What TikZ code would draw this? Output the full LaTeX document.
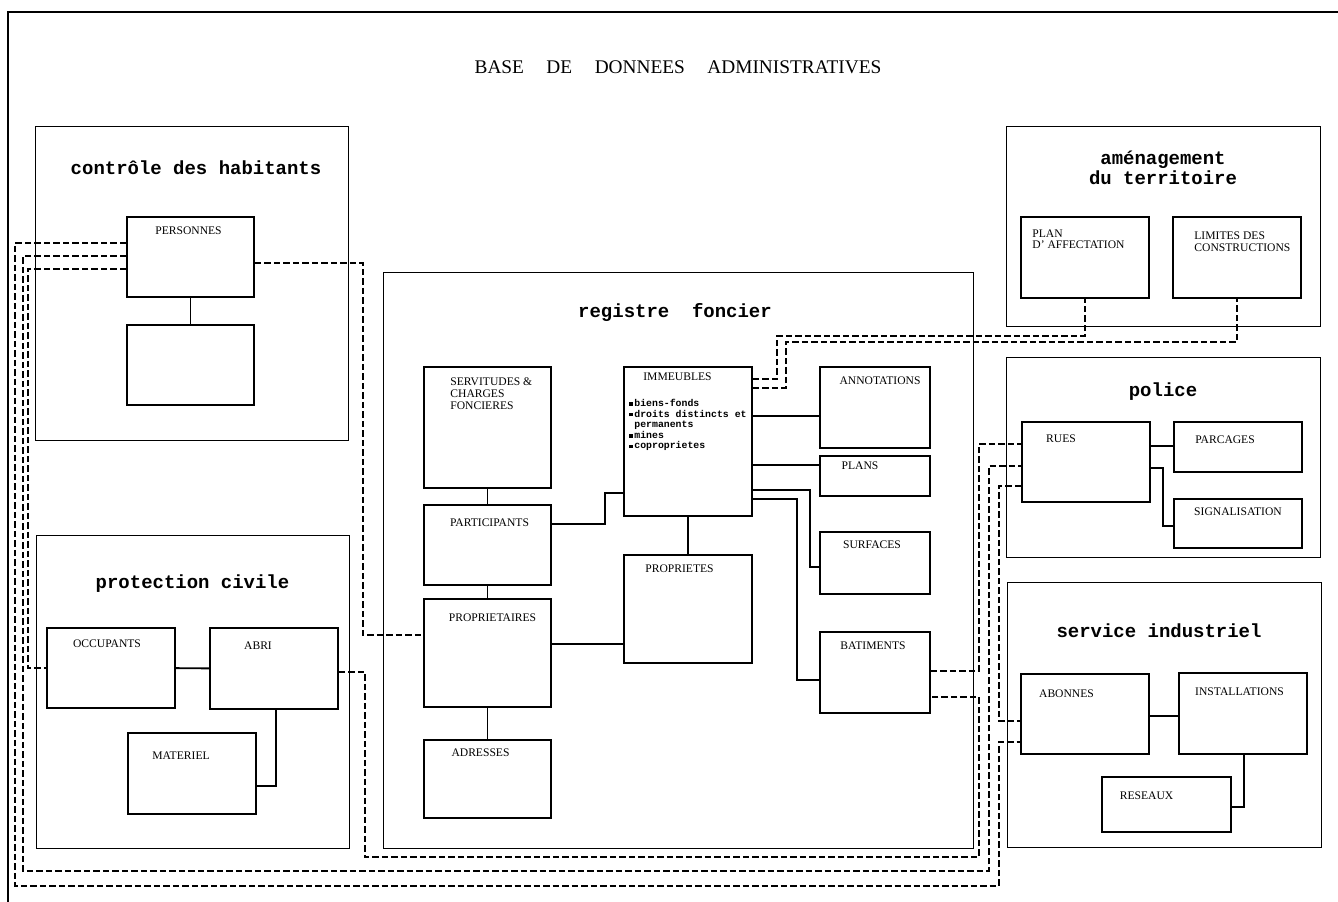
\documentclass[tikz,border=0pt]{standalone}
\usepackage{fontspec}
\setmainfont{Liberation Serif}
\newfontfamily\grpfont{Liberation Mono}

\newcommand{\blt}{\raisebox{0.15ex}{\rule{0.07cm}{0.07cm}}\hspace{0.03cm}}

\begin{document}
\begin{tikzpicture}[x=0.02cm, y=-0.02cm,
  grp/.style={draw, line width=0.5pt, inner sep=0pt},
  ent/.style 2 args={draw, line width=1.1pt, minimum width=#1, minimum height=#2, inner sep=0pt},
  lbl/.style={font=\fontsize{6.6}{6.8}\selectfont, inner sep=0pt, align=left},
  gtitle/.style={font=\grpfont\bfseries\fontsize{10.8}{9.8}\selectfont, inner sep=0pt, align=center},
  lst/.style={font=\grpfont\bfseries\fontsize{5.6}{6}\selectfont, inner sep=0pt, align=left},
  link/.style={line width=1.1pt},
  dlink/.style={line width=0.9pt, dash pattern=on 0.13cm off 0.06cm}
]
\useasboundingbox (0,0) rectangle (1338,902);

% frame and title
\draw[line width=0.6pt] (8,902) -- (8,12) -- (1338,12);
\node[font=\fontsize{11}{12}\selectfont] (title) at (678,67)
  {BASE\hspace{0.45cm}DE\hspace{0.45cm}DONNEES\hspace{0.45cm}ADMINISTRATIVES};

% groups
\node[grp, minimum width=6.26cm, minimum height=6.28cm,
  label={[gtitle, anchor=center, xshift=0.09cm, yshift=-0.84cm]north:{contrôle des habitants}}] (ctrl) at (191.5,283) {};
\node[grp, minimum width=6.26cm, minimum height=6.26cm,
  label={[gtitle, anchor=center, yshift=-0.98cm]north:{protection civile}}] (prot) at (192.5,691.5) {};
\node[grp, minimum width=11.8cm, minimum height=11.52cm,
  label={[gtitle, anchor=center, xshift=-0.06cm, yshift=-0.82cm]north:{registre~~foncier}}] (reg) at (678,560) {};
\node[grp, minimum width=6.28cm, minimum height=4cm,
  label={[gtitle, anchor=center, yshift=-0.85cm]north:{aménagement\\du territoire}}] (amen) at (1163,226) {};
\node[grp, minimum width=6.28cm, minimum height=4cm,
  label={[gtitle, anchor=center, yshift=-0.7cm]north:{police}}] (pol) at (1163,457) {};
\node[grp, minimum width=6.28cm, minimum height=5.3cm,
  label={[gtitle, anchor=center, xshift=-0.1cm, yshift=-0.98cm]north:{service industriel}}] (svc) at (1164,714.5) {};

% controle des habitants / protection civile
\node[ent={2.54cm}{1.6cm}, label={[lbl, anchor=north, xshift=-0.04cm, yshift=-0.2cm]north:{PERSONNES}}] (pers) at (190.5,257) {};
\node[ent={2.54cm}{1.6cm}] (blank) at (190.5,365) {};
\node[ent={2.56cm}{1.6cm}, label={[lbl, anchor=north, xshift=-0.08cm, yshift=-0.24cm]north:{OCCUPANTS}}] (occ) at (111,668) {};
\node[ent={2.56cm}{1.62cm}, label={[lbl, anchor=north, xshift=-0.32cm, yshift=-0.28cm]north:{ABRI}}] (abri) at (274,668.5) {};
\node[ent={2.56cm}{1.62cm}, label={[lbl, anchor=north, xshift=-0.22cm, yshift=-0.38cm]north:{MATERIEL}}] (mat) at (192,773.5) {};

% registre foncier
\node[ent={2.54cm}{2.42cm}, label={[lbl, anchor=north west, xshift=0.54cm, yshift=-0.22cm]north west:{SERVITUDES \&\\CHARGES\\FONCIERES}}] (serv) at (487.5,427.5) {};
\node[ent={2.54cm}{1.6cm}, label={[lbl, anchor=north, xshift=0.04cm, yshift=-0.28cm]north:{PARTICIPANTS}}] (part) at (487.5,545) {};
\node[ent={2.54cm}{2.16cm}, label={[lbl, anchor=north, xshift=0.1cm, yshift=-0.3cm]north:{PROPRIETAIRES}}] (propr) at (487.5,653) {};
\node[ent={2.54cm}{1.56cm}, label={[lbl, anchor=north, xshift=-0.14cm, yshift=-0.18cm]north:{ADRESSES}}] (adr) at (487.5,779) {};
\node[ent={2.56cm}{2.98cm}, label={[lbl, anchor=north, xshift=-0.21cm, yshift=-0.12cm]north:{IMMEUBLES}},
  label={[lst, anchor=north west, xshift=0.12cm, yshift=-0.66cm]north west:{\blt biens-fonds\\\blt droits distincts et\\\hspace*{0.1cm}permanents\\\blt mines\\\blt coproprietes}}] (imm) at (688,441.5) {};
\node[ent={2.56cm}{2.16cm}, label={[lbl, anchor=north, xshift=-0.17cm, yshift=-0.2cm]north:{PROPRIETES}}] (props) at (688,609) {};
\node[ent={2.2cm}{1.62cm}, label={[lbl, anchor=north, xshift=0.1cm, yshift=-0.2cm]north:{ANNOTATIONS}}] (annot) at (875,407.5) {};
\node[ent={2.2cm}{0.8cm}, label={[lbl, anchor=north, xshift=-0.3cm, yshift=-0.12cm]north:{PLANS}}] (plans) at (875,476) {};
\node[ent={2.2cm}{1.24cm}, label={[lbl, anchor=north, xshift=-0.06cm, yshift=-0.18cm]north:{SURFACES}}] (surf) at (875,563) {};
\node[ent={2.2cm}{1.62cm}, label={[lbl, anchor=north, xshift=-0.04cm, yshift=-0.2cm]north:{BATIMENTS}}] (bat) at (875,672.5) {};

% amenagement, police, service industriel
\node[ent={2.56cm}{1.62cm}, label={[lbl, anchor=north west, xshift=0.24cm, yshift=-0.26cm]north west:{PLAN\\D'~AFFECTATION}}] (plan) at (1085,257.5) {};
\node[ent={2.56cm}{1.62cm}, label={[lbl, anchor=north west, xshift=0.44cm, yshift=-0.3cm]north west:{LIMITES DES\\CONSTRUCTIONS}}] (lim) at (1237,257.5) {};
\node[ent={2.56cm}{1.6cm}, label={[lbl, anchor=north, xshift=-0.5cm, yshift=-0.26cm]north:{RUES}}] (rues) at (1086,462) {};
\node[ent={2.56cm}{1cm}, label={[lbl, anchor=north, xshift=-0.26cm, yshift=-0.28cm]north:{PARCAGES}}] (parc) at (1238,447) {};
\node[ent={2.56cm}{0.98cm}, label={[lbl, anchor=north, yshift=-0.18cm]north:{SIGNALISATION}}] (sign) at (1238,523.5) {};
\node[ent={2.56cm}{1.6cm}, label={[lbl, anchor=north, xshift=-0.37cm, yshift=-0.32cm]north:{ABONNES}}] (abon) at (1085,714) {};
\node[ent={2.56cm}{1.62cm}, label={[lbl, anchor=north, xshift=-0.07cm, yshift=-0.3cm]north:{INSTALLATIONS}}] (inst) at (1243,713.5) {};
\node[ent={2.58cm}{1.1cm}, label={[lbl, anchor=north, xshift=-0.4cm, yshift=-0.3cm]north:{RESEAUX}}] (res) at (1166.5,804.5) {};

% solid links
\draw[link] (pers) -- (blank);
\draw[link] (occ) -- (abri);
\draw[link] (abri.south -| 276,0) |- (mat.east |- 0,786);
\draw[link] (serv) -- (part);
\draw[link] (part) -- (propr);
\draw[link] (propr) -- (adr);
\draw[link] (part.east |- 0,524) -- ++(53,0) |- (imm.west |- 0,493);
\draw[link] (propr.east |- 0,644) -- (props.west |- 0,644);
\draw[link] (imm) -- (props);
\draw[link] (imm.east |- 0,416) -- (annot.west |- 0,416);
\draw[link] (imm.east |- 0,465) -- (plans.west |- 0,465);
\draw[link] (imm.east |- 0,490) -- ++(57,0) |- (surf.west |- 0,567);
\draw[link] (imm.east |- 0,499) -- ++(44,0) |- (bat.west |- 0,680);
\draw[link] (rues.east |- 0,446) -- (parc.west |- 0,446);
\draw[link] (rues.east |- 0,468) -- ++(12,0) |- (sign.west |- 0,526);
\draw[link] (abon.east |- 0,716) -- (inst.west |- 0,716);
\draw[link] (inst.south -| 1244,0) |- (res.east |- 0,807);

% dashed links
\draw[dlink] (pers.west |- 0,243) -| (15,886) -| (999,742) -- (abon.west |- 0,742);
\draw[dlink] (pers.west |- 0,256) -| (23,871) -| (989,466) -- (rues.west |- 0,466);
\draw[dlink] (pers.west |- 0,269) -| (28,668) -- (occ.west);
\draw[dlink] (pers.east |- 0,263) -| (363,635) -- (propr.west |- 0,635);
\draw[dlink] (abri.east |- 0,672) -| (365,857) -| (979,697) -- (bat.east |- 0,697);
\draw[dlink] (bat.east |- 0,671) -| (979,444) -- (rues.west |- 0,444);
\draw[dlink] (rues.west |- 0,486) -| (999,721) -- (abon.west |- 0,721);
\draw[dlink] (imm.east |- 0,379) -| (777,336) -| (plan.south);
\draw[dlink] (imm.east |- 0,388) -| (786,342) -| (lim.south);
\end{tikzpicture}
\end{document}
